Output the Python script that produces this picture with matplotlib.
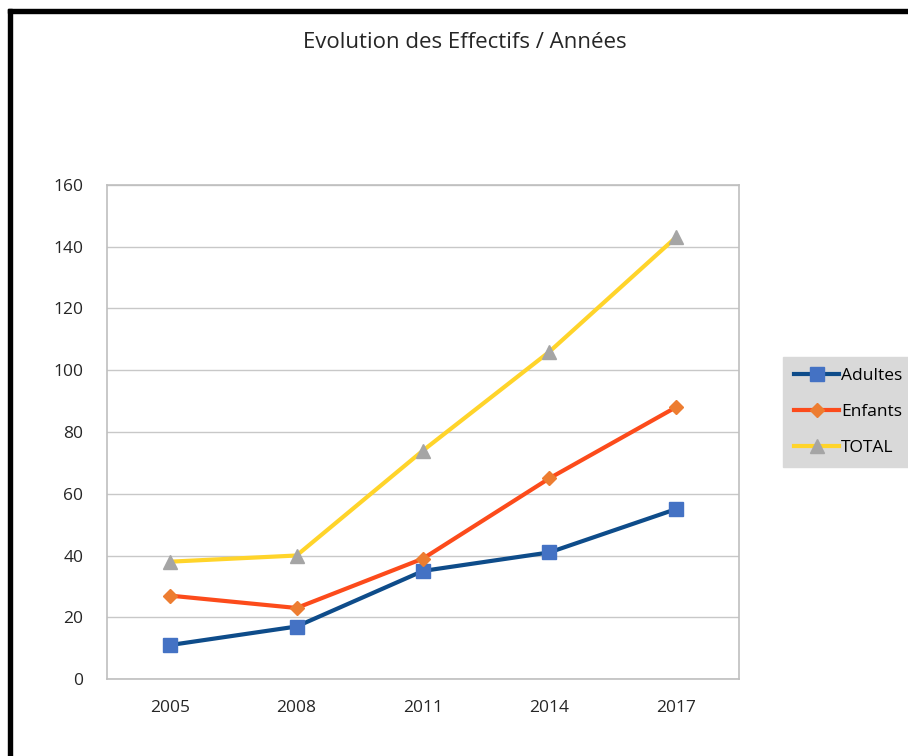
"""Evolution des effectifs par année (Adultes, Enfants, TOTAL)"""

import matplotlib
matplotlib.use("Agg")
from matplotlib import pyplot as plt
from matplotlib.patches import Rectangle

years = ["2005", "2008", "2011", "2014", "2017"]
adultes = [11, 17, 35, 41, 55]
enfants = [27, 23, 39, 65, 88]
total = [38, 40, 74, 106, 143]
y_ticks = [0, 20, 40, 60, 80, 100, 120, 140, 160]

plt.rcParams["font.family"] = ["Open Sans", "DejaVu Sans"]

W, H = 908, 756
fig = plt.figure(figsize=(W / 100, H / 100), dpi=100)
ax = fig.add_axes([107 / W, 1 - 679 / H, (739 - 107) / W, (679 - 185) / H])

x = range(len(years))
ax.plot(x, adultes, color="#0e4c8a", lw=3, marker="s", ms=10,
        mfc="#4472c4", mec="#4472c4", label="Adultes", zorder=3)
ax.plot(x, enfants, color="#fc4b1b", lw=3, marker="D", ms=7,
        mfc="#ed7d31", mec="#ed7d31", label="Enfants", zorder=3)
ax.plot(x, total, color="#ffd42a", lw=3, marker="^", ms=10,
        mfc="#a5a5a5", mec="#a5a5a5", label="TOTAL", zorder=3)

ax.set_xlim(-0.5, len(years) - 0.5)
ax.set_ylim(0, 160)
ax.set_xticks(list(x))
ax.set_xticklabels(years)
ax.set_yticks(y_ticks)
ax.tick_params(length=0, labelsize=12.5, colors="#262626")
ax.tick_params(axis="x", pad=15)
ax.tick_params(axis="y", pad=17)
ax.grid(axis="y", color="#c8c8c8", lw=1)
ax.set_axisbelow(True)
for spine in ax.spines.values():
    spine.set_color("#bfbfbf")
    spine.set_linewidth(1.2)

leg = ax.legend(loc="center left", bbox_to_anchor=(783 / W, 1 - 412 / H),
                bbox_transform=fig.transFigure, frameon=True, fancybox=False,
                fontsize=12.5, handlelength=2.6, handletextpad=0.1,
                labelspacing=1.15, borderpad=0.65, borderaxespad=0)
leg.get_frame().set_facecolor("#d9d9d9")
leg.get_frame().set_edgecolor("#d9d9d9")
leg.get_frame().set_alpha(1)

fig.text(465 / W, 1 - 43 / H, "Evolution des Effectifs / Années",
         ha="center", va="center", fontsize=16, color="#262626")

# black frame on top and left edges
fig.patches.append(Rectangle((8 / W, 0), 4 / W, 1 - 9 / H,
                             transform=fig.transFigure, color="black"))
fig.patches.append(Rectangle((8 / W, 1 - 13 / H), 1, 4 / H,
                             transform=fig.transFigure, color="black"))

fig.savefig("out.png", dpi=100)
